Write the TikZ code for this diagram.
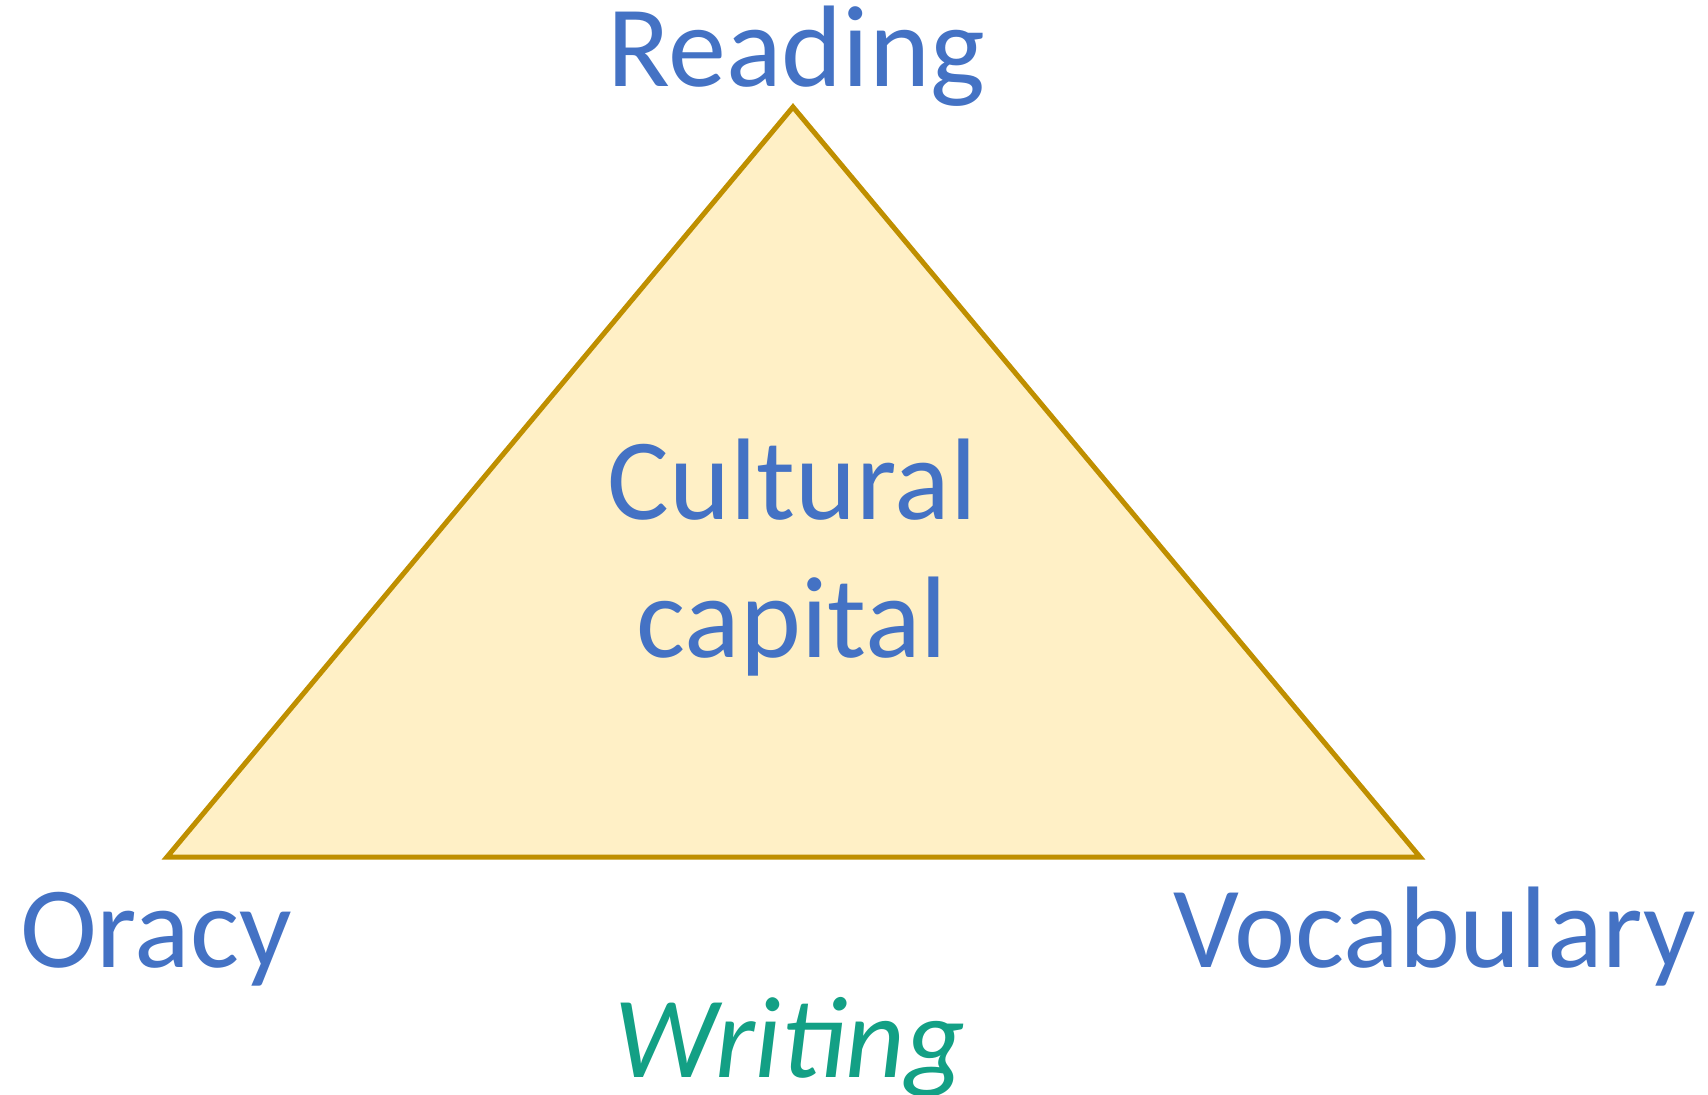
\documentclass[tikz,border=0pt]{standalone}
\usepackage{fontspec}
\setsansfont{Carlito}
\usepackage{xcolor}
\usepackage{tikz}
\usetikzlibrary{positioning}

\definecolor{wordblue}{HTML}{4472C4}
\definecolor{writegreen}{HTML}{13A085}
\definecolor{trifill}{HTML}{FFF0C6}
\definecolor{triedge}{HTML}{BF8F00}

\begin{document}
\begin{tikzpicture}[x=0.5pt, y=-0.5pt, font=\sffamily\fontsize{58}{69}\selectfont,
		word/.style={text=wordblue, inner sep=0pt, anchor=base},
		corner/.style={draw=triedge, fill=trifill, line width=2.5pt, line join=miter}]
		\useasboundingbox (0,0) rectangle (1708,1095);
		\coordinate (apex) at (793,107);
		\coordinate (left) at (167,857);
		\coordinate (right) at (1420,857);
		\draw[corner] (apex) -- (left) -- (right) -- cycle;
		\node[word] (reading) at (796,87) {Reading};
		\node[word] (cultural) at (792,520) {Cultural};
		\node[word] (capital) at (792,658) {capital};
		\node[word] (oracy) at (156,967) {Oracy};
		\node[word] (vocab) at (1435,967) {Vocabulary};
		\node[word, text=writegreen, font=\sffamily\itshape\fontsize{58}{69}\selectfont] (writing) at (790,1077) {Writing};
	\end{tikzpicture}
\end{document}
